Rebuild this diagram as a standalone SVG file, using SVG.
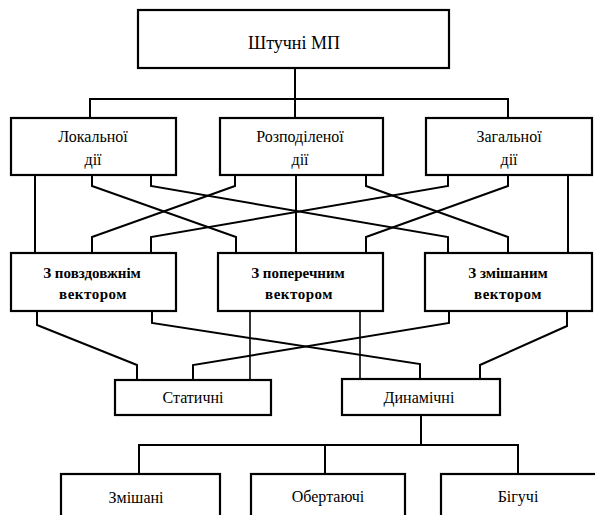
<svg xmlns="http://www.w3.org/2000/svg" width="595" height="515" viewBox="0 0 595 515">
<style>
.box{fill:#fff;stroke:#000;stroke-width:2.2}
text{fill:#000;text-anchor:middle}
.t{font-size:16px}
.tb{font-size:15px;font-weight:bold}
.top{font-size:18px}
#connectors polyline,#connectors line{fill:none;stroke:#000;stroke-width:2}
#connectors .thin{stroke-width:1.6}
</style>
<rect width="595" height="515" fill="#fff"/>
<g id="connectors">
<line x1="295" y1="68" x2="295" y2="118"/>
<polyline points="90,118 90,99 508,99 508,118"/>
<line x1="35" y1="175" x2="35" y2="253"/>
<polyline points="92,175 92,186 236,237 236,253"/>
<polyline points="235,175 235,186 92,237 92,253"/>
<polyline points="151,175 151,186 448,237 448,253"/>
<polyline points="448,175 448,186 151,237 151,253"/>
<line x1="296" y1="175" x2="296" y2="253"/>
<polyline points="366,175 366,186 508,237 508,253"/>
<polyline points="508,175 508,186 366,237 366,253"/>
<line x1="568" y1="175" x2="568" y2="253"/>
<polyline points="37,311 37,325 137,365 137,380"/>
<polyline points="152,311 152,323 420,364 420,379"/>
<line class="thin" x1="250" y1="311" x2="250" y2="380"/>
<polyline points="449,311 449,323 193,365 193,380"/>
<line class="thin" x1="360" y1="311" x2="360" y2="379"/>
<polyline points="567,311 567,326 480,365 480,379"/>
<line x1="421" y1="415" x2="421" y2="445"/>
<polyline points="139,474 139,445 518,445 518,474"/>
<line x1="325" y1="445" x2="325" y2="474"/>
</g>
<g font-family="Liberation Serif, serif">
<g id="n-root"><rect class="box" x="138" y="10" width="311" height="58"/><text class="t top" x="294" y="49">Штучні МП</text></g>
<g id="n-local"><rect class="box" x="11" y="118" width="165" height="57"/><text class="t" x="93" y="142">Локальної</text><text class="t" x="93" y="165">дії</text></g>
<g id="n-distrib"><rect class="box" x="220" y="118" width="163" height="57"/><text class="t" x="300" y="142">Розподіленої</text><text class="t" x="300" y="165">дії</text></g>
<g id="n-general"><rect class="box" x="426" y="118" width="166" height="57"/><text class="t" x="509" y="142">Загальної</text><text class="t" x="509" y="165">дії</text></g>
<g id="n-long"><rect class="box" x="11" y="253" width="165" height="58"/><text class="tb" x="92" y="278">З повздовжнім</text><text class="tb" x="93" y="299" letter-spacing="0.5">вектором</text></g>
<g id="n-trans"><rect class="box" x="218" y="253" width="165" height="58"/><text class="tb" x="298" y="278">З поперечним</text><text class="tb" x="299" y="299" letter-spacing="0.5">вектором</text></g>
<g id="n-mixed"><rect class="box" x="425" y="253" width="167" height="58"/><text class="tb" x="508" y="278">З змішаним</text><text class="tb" x="508" y="299" letter-spacing="0.5">вектором</text></g>
<g id="n-static"><rect class="box" x="115" y="380" width="156" height="35"/><text class="t" x="193" y="403">Статичні</text></g>
<g id="n-dynamic"><rect class="box" x="342" y="379" width="158" height="36"/><text class="t" x="419" y="403">Динамічні</text></g>
<g id="n-mix2"><rect class="box" x="61" y="474" width="159" height="60"/><text class="t" x="136" y="503">Змішані</text></g>
<g id="n-rot"><rect class="box" x="251" y="474" width="154" height="60"/><text class="t" x="328" y="502">Обертаючі</text></g>
<g id="n-run"><rect class="box" x="441" y="474" width="165" height="60"/><text class="t" x="518" y="502">Бігучі</text></g>
</g>
</svg>
